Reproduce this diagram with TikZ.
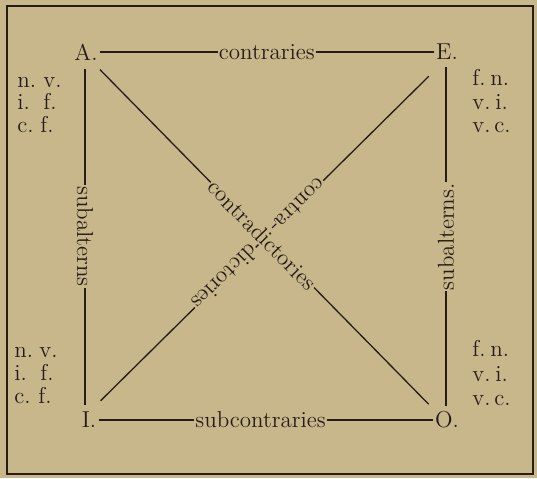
\documentclass[tikz,border=0pt]{standalone}
\usetikzlibrary{calc}
\definecolor{paper}{RGB}{201,183,140}
\definecolor{ink}{RGB}{38,28,22}
\newcommand{\pair}[3]{\makebox[#1pt][l]{#2}#3}
\begin{document}
\begin{tikzpicture}[x=0.5pt,y=-0.5pt,
  every node/.style={text=ink,font=\fontsize{11.5}{12}\selectfont},
  corner/.style={inner sep=1pt},
  lab/.style={fill=paper,inner sep=0.6pt},
  note/.style={anchor=base west,inner sep=0pt},
  ln/.style={draw=ink,line width=0.65pt}]
\fill[paper] (0,0) rectangle (537,478);
\useasboundingbox (0,0) rectangle (537,478);
\draw[draw=ink,line width=1pt] (7,6) rectangle (533,474);
% corners
\node[corner] (A) at (86,52) {A.};
\node[corner] (E) at (447,52) {E.};
\node[corner] (I) at (89,420) {I.};
\node[corner] (O) at (447,420) {O.};
% sides
\draw[ln] (A) -- node[lab] {contraries} (E);
\draw[ln] (I) -- node[lab,pos=0.485] {subcontraries} (O);
\draw[ln] ($(A.south)+(-1,6)$) -- node[lab,rotate=-90] {subalterns} ($(I.north)+(-4,-5)$);
\draw[ln] ($(E.south)+(-1,5)$) -- node[lab,rotate=90] {subalterns.} ($(O.north)+(-1,-3)$);
% diagonals
\draw[ln] ($(E.south west)+(-5,14)$) --
  node[lab,rotate=224.6,pos=0.40] {contra-}
  node[lab,rotate=224.6,pos=0.62] {dictories}
  ($(I.north east)+(2,-9)$);
\draw[ln] ($(A.south east)+(0,7)$) --
  node[lab,rotate=-45.5,pos=0.494] {contradictories}
  ($(O.north west)+(-4,-5)$);
% notes
\node[note] (l1) at (17,87) {\pair{13}{n.}{v.}};
\node[note] (l2) at (17,109) {\pair{13}{i.}{f.}};
\node[note] (l3) at (17,132) {\pair{11.5}{c.}{f.}};
\node[note] (l4) at (14,357) {\pair{12.5}{n.}{v.}};
\node[note] (l5) at (14,380) {\pair{13}{i.}{f.}};
\node[note] (l6) at (14,403) {\pair{12}{c.}{f.}};
\node[note] (r1) at (472,85) {\pair{9}{f.}{n.}};
\node[note] (r2) at (472,109) {\pair{11.5}{v.}{i.}};
\node[note] (r3) at (472,132) {\pair{11}{v.}{c.}};
\node[note] (r4) at (472,356) {\pair{9}{f.}{n.}};
\node[note] (r5) at (472,381) {\pair{11.5}{v.}{i.}};
\node[note] (r6) at (472,405) {\pair{11}{v.}{c.}};
\end{tikzpicture}
\end{document}
